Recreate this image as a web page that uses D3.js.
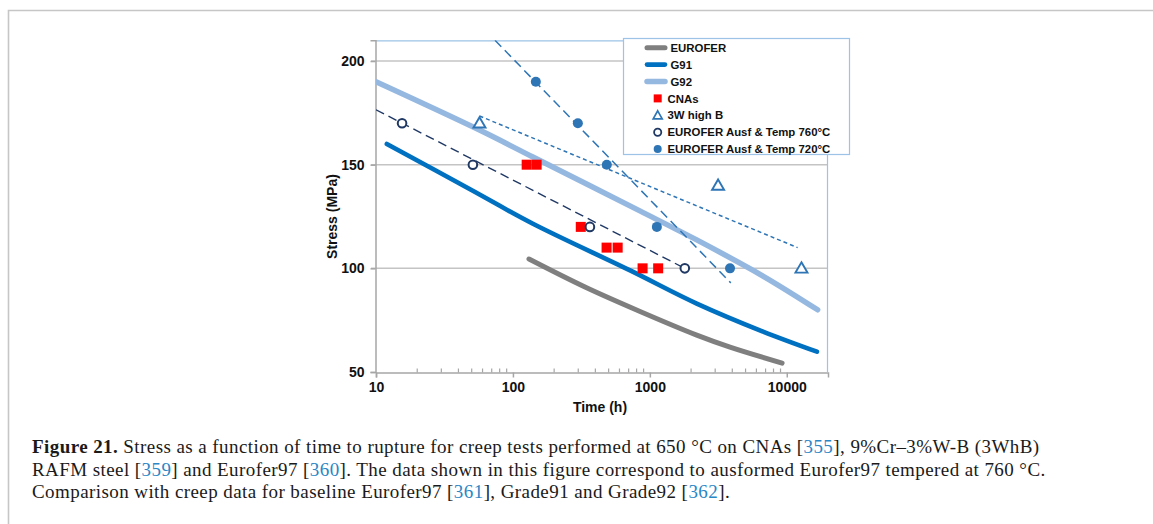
<!DOCTYPE html>
<html>
<head>
<meta charset="utf-8">
<script src="https://cdn.jsdelivr.net/npm/d3@7"></script>
<style>
  body { margin: 0; background: #fff; }
  svg { display: block; }
</style>
</head>
<body>
<svg id="fig" width="1153" height="524"></svg>
<script>
// Creep rupture at 650 °C: time to rupture (h) vs applied stress (MPa)
const euroferCurve = [[131, 104.5], [336, 91], [848, 79.2], [2200, 67.8], [3850, 62], [9240, 54.3]];
const g91Curve = [[12, 160], [49, 138], [140, 121.5], [717, 99], [2200, 83], [6700, 69.5], [16600, 59.8]];
const g92Curve = [[10, 190], [57, 166.7], [140, 153.7], [845, 127.7], [2200, 113.7], [6700, 96.3], [16800, 80]];
const cnaPoints = [[126, 150], [149, 150], [313, 120], [483, 110], [582, 110], [885, 100], [1150, 100]];
const highB3W = [[57, 170], [3150, 140], [12800, 100]];
const ausf760 = [[15.5, 170], [51, 150], [365, 120], [1800, 100]];
const ausf720 = [[147, 190], [298, 170], [485, 150], [1125, 120], [3850, 100]];

// Trend lines (end points, log-time fits)
const trend760 = [[10, 176.5], [1800, 100]];
const trend720 = [[74, 210], [3900, 93]];
const trend3W = [[57, 173.5], [12000, 110]];

const xTicks = [10, 100, 1000, 10000];
const yTicks = [50, 100, 150, 200];
const legendLabels = ["EUROFER", "G91", "G92", "CNAs", "3W high B",
  "EUROFER Ausf & Temp 760°C", "EUROFER Ausf & Temp 720°C"];

const col = {
  eurofer: "#7f7f7f", g91: "#0070c0", g92: "#95b8e0", cna: "#ff0000",
  tri: "#2e75b6", c760: "#1f3864", c720: "#2e75b6", grid: "#c4c4c4",
  axis: "#a6a6a6", frame: "#9dc3e6", cite: "#2b86c5"
};

const svg = d3.select("#fig");

// page frame
svg.append("path").attr("d", "M8.5,524 V10.5 H1153")
  .attr("fill", "none").attr("stroke", "#c6c6c6").attr("stroke-width", 1.6);

const x = d3.scaleLog().domain([10, 20000]).range([376, 828]);
const y = d3.scaleLinear().domain([50, 210]).range([372, 40.3]);
const [x0, x1] = x.range();
const [yb, yt] = y.range();

svg.append("defs").append("clipPath").attr("id", "plotClip")
  .append("rect").attr("x", x0).attr("y", yt).attr("width", x1 - x0).attr("height", yb - yt);

// gridlines
svg.append("g").selectAll("line").data(yTicks.filter(d => d > 50)).join("line")
  .attr("x1", x0 - 5).attr("x2", x1).attr("y1", d => y(d)).attr("y2", d => y(d))
  .attr("stroke", col.grid).attr("stroke-width", 1.5);

// plot border top/right
svg.append("path").attr("d", `M${x0},${yt + 0.5} H${x1 - 0.5} V${yb}`)
  .attr("fill", "none").attr("stroke", col.frame).attr("stroke-width", 1.2);

// y axis
const yAxis = d3.axisLeft(y).tickValues(yTicks).tickSize(5).tickPadding(6).tickFormat(d3.format("d"));
const gy = svg.append("g").attr("transform", `translate(${x0 - 0.5},0)`).call(yAxis);
gy.select(".domain").attr("stroke", col.axis).attr("stroke-width", 1.5);
gy.selectAll(".tick line").attr("stroke", col.axis).attr("stroke-width", 1.5);
gy.selectAll(".tick text").attr("font-family", "Liberation Sans, Arial, sans-serif")
  .attr("font-weight", "bold").attr("font-size", 14).attr("fill", "#111").attr("x", -11);

// x axis (major ticks outside, minor ticks inside)
const minor = [];
for (let d = 10; d < 20000; d *= 10) for (let k = 2; k <= 9; k++) if (k * d < 20000) minor.push(k * d);
const xAxis = d3.axisBottom(x).tickValues(xTicks).tickSize(5).tickPadding(5).tickFormat(d3.format("d"));
const gx = svg.append("g").attr("transform", `translate(0,${yb + 0.5})`).call(xAxis);
gx.select(".domain").attr("stroke", col.axis).attr("stroke-width", 1.5);
gx.selectAll(".tick line").attr("stroke", col.axis).attr("stroke-width", 1.5);
gx.selectAll(".tick text").attr("font-family", "Liberation Sans, Arial, sans-serif")
  .attr("font-weight", "bold").attr("font-size", 14).attr("fill", "#111");
gx.append("g").selectAll("line").data(minor).join("line")
  .attr("x1", d => x(d)).attr("x2", d => x(d)).attr("y1", 0).attr("y2", -4)
  .attr("stroke", col.axis).attr("stroke-width", 1.2);

// axis titles
svg.append("text").attr("x", 600).attr("y", 411.5).attr("text-anchor", "middle")
  .attr("font-family", "Liberation Sans, Arial, sans-serif").attr("font-weight", "bold")
  .attr("font-size", 14).attr("fill", "#111").text("Time (h)");
svg.append("text").attr("transform", "translate(337,216.5) rotate(-90)").attr("text-anchor", "middle")
  .attr("font-family", "Liberation Sans, Arial, sans-serif").attr("font-weight", "bold")
  .attr("font-size", 14).attr("fill", "#111").text("Stress (MPa)");

const plot = svg.append("g").attr("clip-path", "url(#plotClip)");
const smooth = d3.line().x(d => x(d[0])).y(d => y(d[1])).curve(d3.curveCatmullRom.alpha(0.5));
const straight = d3.line().x(d => x(d[0])).y(d => y(d[1]));

// reference steels
[[euroferCurve, col.eurofer, 5], [g91Curve, col.g91, 4.6], [g92Curve, col.g92, 5.5]].forEach(([data, c, w]) => {
  plot.append("path").datum(data).attr("d", smooth).attr("fill", "none")
    .attr("stroke", c).attr("stroke-width", w).attr("stroke-linecap", "round");
});

// trend lines
plot.append("path").datum(trend760).attr("d", straight).attr("fill", "none")
  .attr("stroke", col.c760).attr("stroke-width", 1.4).attr("stroke-dasharray", "9,5");
plot.append("path").datum(trend720).attr("d", straight).attr("fill", "none")
  .attr("stroke", col.c720).attr("stroke-width", 1.5).attr("stroke-dasharray", "9,5");
plot.append("path").datum(trend3W).attr("d", straight).attr("fill", "none")
  .attr("stroke", col.tri).attr("stroke-width", 1.5).attr("stroke-dasharray", "4,3");

// markers
const triPath = "M0,-6 L6,4.3 L-6,4.3 Z";
svg.append("g").selectAll("rect").data(cnaPoints).join("rect")
  .attr("x", d => x(d[0]) - 5).attr("y", d => y(d[1]) - 5).attr("width", 10).attr("height", 10)
  .attr("fill", col.cna);
svg.append("g").selectAll("path").data(highB3W).join("path")
  .attr("transform", d => `translate(${x(d[0])},${y(d[1])})`).attr("d", triPath)
  .attr("fill", "#fff").attr("stroke", col.tri).attr("stroke-width", 1.9);
svg.append("g").selectAll("circle").data(ausf760).join("circle")
  .attr("cx", d => x(d[0])).attr("cy", d => y(d[1])).attr("r", 4.3)
  .attr("fill", "#fff").attr("stroke", col.c760).attr("stroke-width", 2);
svg.append("g").selectAll("circle").data(ausf720).join("circle")
  .attr("cx", d => x(d[0])).attr("cy", d => y(d[1])).attr("r", 5)
  .attr("fill", col.c720);

// legend
const lg = svg.append("g");
lg.append("rect").attr("x", 623.5).attr("y", 38.5).attr("width", 226).attr("height", 116)
  .attr("fill", "#fff").attr("stroke", col.frame).attr("stroke-width", 1.2);
const rowY = i => 47.7 + i * 16.9;
const legendKinds = [
  { t: "line", c: col.eurofer, w: 5 }, { t: "line", c: col.g91, w: 4.6 }, { t: "line", c: col.g92, w: 5.5 },
  { t: "square" }, { t: "tri" }, { t: "open" }, { t: "dot" }
];
legendKinds.forEach((k, i) => {
  const cy = rowY(i), mx = 657.7;
  if (k.t === "line") {
    lg.append("line").attr("x1", 647).attr("x2", 665).attr("y1", cy).attr("y2", cy)
      .attr("stroke", k.c).attr("stroke-width", k.w).attr("stroke-linecap", "round");
  } else if (k.t === "square") {
    lg.append("rect").attr("x", mx - 4).attr("y", cy - 4).attr("width", 8).attr("height", 8).attr("fill", col.cna);
  } else if (k.t === "tri") {
    lg.append("path").attr("transform", `translate(${mx},${cy})`).attr("d", "M0,-4.5 L4.5,3.5 L-4.5,3.5 Z")
      .attr("fill", "#fff").attr("stroke", col.tri).attr("stroke-width", 1.7);
  } else if (k.t === "open") {
    lg.append("circle").attr("cx", mx).attr("cy", cy).attr("r", 3.6)
      .attr("fill", "#fff").attr("stroke", col.c760).attr("stroke-width", 1.8);
  } else {
    lg.append("circle").attr("cx", mx).attr("cy", cy).attr("r", 4).attr("fill", col.c720);
  }
  lg.append("text").attr("x", k.t === "line" ? 670.5 : 667.5).attr("y", cy).attr("dy", "0.36em")
    .attr("font-family", "Liberation Sans, Arial, sans-serif").attr("font-weight", "bold")
    .attr("font-size", 11.4).attr("fill", "#111").text(legendLabels[i]);
});

// caption
const captionLines = [
  [["Figure 21.", "b"], [" Stress as a function of time to rupture for creep tests performed at 650 °C on CNAs ["], ["355", "c"], ["], 9%Cr–3%W-B (3WhB)"]],
  [["RAFM steel ["], ["359", "c"], ["] and Eurofer97 ["], ["360", "c"], ["]. The data shown in this figure correspond to ausformed Eurofer97 tempered at 760 °C."]],
  [["Comparison with creep data for baseline Eurofer97 ["], ["361", "c"], ["], Grade91 and Grade92 ["], ["362", "c"], ["]."]]
];
const capY = [453, 475.5, 497.5];
captionLines.forEach((parts, i) => {
  const t = svg.append("text").attr("x", 32).attr("y", capY[i])
    .attr("font-family", "Liberation Serif, Times New Roman, serif").attr("font-size", 19)
    .attr("letter-spacing", 0.42).attr("fill", "#1a1a1a").attr("xml:space", "preserve");
  parts.forEach(([s, f]) => {
    const ts = t.append("tspan").text(s);
    if (f === "b") ts.attr("font-weight", "bold");
    if (f === "c") ts.attr("fill", col.cite);
  });
});
</script>
</body>
</html>
